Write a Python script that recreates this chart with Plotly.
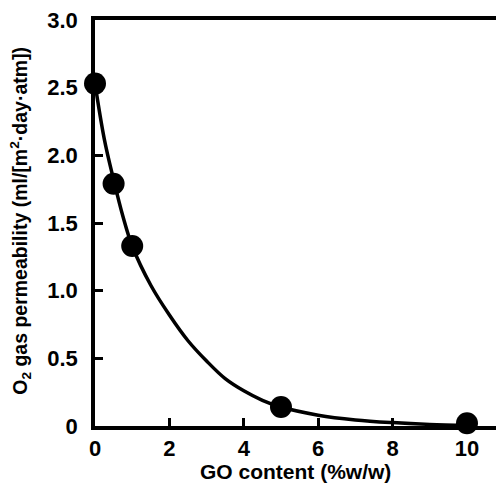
import plotly.graph_objects as go

# measured data points
go_content = [0, 0.5, 1, 5, 10]
permeability = [2.53, 1.79, 1.33, 0.14, 0.02]

# fitted curve
curve_x = [0, 0.25, 0.5, 0.75, 1, 1.5, 2, 2.5, 3, 3.5, 4, 4.5, 5, 6, 7, 8, 9, 10]
curve_y = [2.53, 2.12, 1.82, 1.55, 1.33, 1.04, 0.82, 0.63, 0.48, 0.35, 0.26, 0.19, 0.14, 0.08, 0.045, 0.025, 0.012, 0.005]

x_ticks = [0, 2, 4, 6, 8, 10]
y_ticks = [0, 0.5, 1.0, 1.5, 2.0, 2.5, 3.0]
y_tick_text = ["0", "0.5", "1.0", "1.5", "2.0", "2.5", "3.0"]

FONT = "Liberation Sans, Arial, sans-serif"

fig = go.Figure()
fig.add_trace(go.Scatter(x=curve_x, y=curve_y, mode="lines",
                         line=dict(color="black", width=3.5, shape="spline"),
                         hoverinfo="skip", showlegend=False, cliponaxis=False))
fig.add_trace(go.Scatter(x=go_content, y=permeability, mode="markers",
                         marker=dict(color="black", size=22),
                         showlegend=False, cliponaxis=False))

fig.update_layout(
    width=496, height=486,
    margin=dict(l=95, r=0, t=20, b=60),
    paper_bgcolor="white", plot_bgcolor="white",
    font=dict(family=FONT, color="black", size=19),
    xaxis=dict(range=[0, 10.78], tickvals=x_ticks, ticks="inside", ticklen=8, tickwidth=2.5,
               tickcolor="black", showline=True, linecolor="black", linewidth=3.5,
               mirror=True, showgrid=False, zeroline=False,
               tickfont=dict(size=22, family=FONT, weight="bold"), ticklabelstandoff=0),
    yaxis=dict(range=[0, 3.0], tickvals=y_ticks, ticktext=y_tick_text, ticks="inside",
               ticklen=8, tickwidth=2.5, tickcolor="black", showline=True, linecolor="black",
               linewidth=3.5, showgrid=False, zeroline=False,
               tickfont=dict(size=22, family=FONT, weight="bold"), ticklabelstandoff=9),
    annotations=[
        dict(text="<b>GO content (%w/w)</b>", xref="paper", yref="paper", x=0.5, y=-0.111,
             xanchor="center", yanchor="middle", showarrow=False, font=dict(size=21)),
        dict(text="<b>O<sub>2</sub> gas permeability (ml/[m<sup>2</sup>·day·atm])</b>",
             xref="paper", yref="paper", x=-0.185, y=0.505, xanchor="center", yanchor="middle",
             textangle=-90, showarrow=False, font=dict(size=19.5)),
    ],
)

fig.write_html("out.html", config={"displayModeBar": False},
               post_script="document.body.style.margin='0';")
